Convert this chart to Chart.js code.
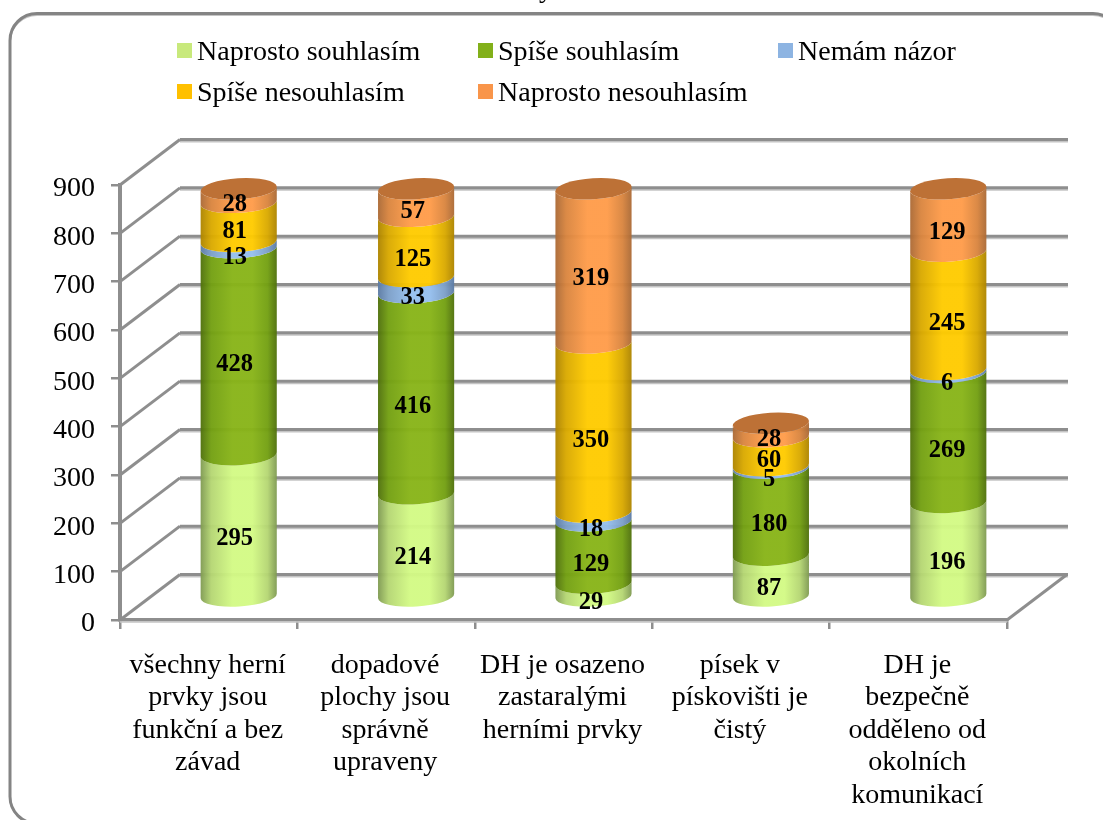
<!DOCTYPE html>
<html>
<head>
<meta charset="utf-8">
<script src="https://cdn.jsdelivr.net/npm/chart.js@4"></script>
<style>
  html, body { margin: 0; background: #fff; }
  canvas { display: block; }
</style>
</head>
<body>
<canvas id="myChart" width="1103" height="820"></canvas>
<script>
const categories = [
  ['všechny herní', 'prvky jsou', 'funkční a bez', 'závad'],
  ['dopadové', 'plochy jsou', 'správně', 'upraveny'],
  ['DH je osazeno', 'zastaralými', 'herními prvky'],
  ['písek v', 'pískovišti je', 'čistý'],
  ['DH je', 'bezpečně', 'odděleno od', 'okolních', 'komunikací']
]
const seriesNames = ['Naprosto souhlasím', 'Spíše souhlasím', 'Nemám názor', 'Spíše nesouhlasím', 'Naprosto nesouhlasím']
const naprostoSouhlasim = [295, 214, 29, 87, 196]
const spiseSouhlasim = [428, 416, 129, 180, 269]
const nemamNazor = [13, 33, 18, 5, 6]
const spiseNesouhlasim = [81, 125, 350, 60, 245]
const naprostoNesouhlasim = [28, 57, 319, 28, 129]
const seriesValues = [naprostoSouhlasim, spiseSouhlasim, nemamNazor, spiseNesouhlasim, naprostoNesouhlasim]

const legendColors = ['#c8e97c', '#82b01a', '#8db4e2', '#ffc000', '#f9954a']
const brightColors = ['#d3fa85', '#88b418', '#95bfee', '#ffcb00', '#ff9c4a']
const midColors = ['#b5d673', '#73a012', '#7c9fc8', '#d9a900', '#d9853f']
const darkColors = ['#7f9a52', '#4f700c', '#5b7aa3', '#ad8400', '#ab6a36']
const capColor = '#bd7136'

const lineColor = '#8e8e8e'
const lineShadow = '#c4c4c4'
const font = 'Liberation Serif'

// depth of the fake 3d floor
const depthX = 60
const depthY = 45.5
const tilt = -3.5 * Math.PI / 180
const capRy = 10.5

function line (ctx, x1, y1, x2, y2, color, w) {
  ctx.strokeStyle = color
  ctx.lineWidth = w
  ctx.beginPath()
  ctx.moveTo(x1, y1)
  ctx.lineTo(x2, y2)
  ctx.stroke()
}

const frame = {
  id: 'frame',
  beforeDraw (chart) {
    const ctx = chart.ctx
    ctx.save()
    ctx.strokeStyle = lineShadow
    ctx.lineWidth = 2
    ctx.beginPath()
    ctx.roundRect(10, 15, 1110, 809, 27)
    ctx.stroke()
    ctx.strokeStyle = '#848484'
    ctx.lineWidth = 3
    ctx.beginPath()
    ctx.roundRect(10, 13.5, 1110, 810, 27)
    ctx.stroke()
    // tail of the heading above the crop
    ctx.fillStyle = '#000'
    ctx.font = '28px "' + font + '"'
    ctx.textAlign = 'center'
    ctx.textBaseline = 'alphabetic'
    ctx.fillText('y', 546, -3)
    ctx.restore()
  }
}

const walls = {
  id: 'walls',
  beforeDatasetsDraw (chart) {
    const ctx = chart.ctx
    const y = chart.scales.y
    const x = chart.scales.x
    const left = x.left
    const right = x.right
    ctx.save()
    y.ticks.forEach(t => {
      const py = y.getPixelForValue(t.value)
      line(ctx, left + depthX, py - depthY + 2, right + depthX + 1, py - depthY + 2, lineShadow, 2)
      line(ctx, left + depthX, py - depthY, right + depthX + 1, py - depthY, lineColor, 3)
      line(ctx, left, py, left + depthX, py - depthY, lineColor, 3)
    })
    const base = y.getPixelForValue(0)
    line(ctx, right, base, right + depthX, base - depthY, lineColor, 3)
    line(ctx, left, base + 2, right, base + 2, lineShadow, 1.5)
    ctx.restore()
  }
}

const cylinders = {
  id: 'cylinders',
  beforeDatasetsDraw (chart) {
    const ctx = chart.ctx
    ctx.save()
    categories.forEach((c, j) => {
      let top = null
      seriesValues.forEach((s, i) => {
        const bar = chart.getDatasetMeta(i).data[j]
        const cx = bar.x + depthX / 2
        const rx = bar.width / 2
        const yb = bar.base - depthY / 2
        const yt = bar.y - depthY / 2
        const g = ctx.createLinearGradient(cx - rx, 0, cx + rx, 0)
        g.addColorStop(0, darkColors[i])
        g.addColorStop(0.14, midColors[i])
        g.addColorStop(0.42, brightColors[i])
        g.addColorStop(0.68, brightColors[i])
        g.addColorStop(0.88, midColors[i])
        g.addColorStop(1, darkColors[i])
        ctx.fillStyle = g
        ctx.globalAlpha = 0.96
        ctx.beginPath()
        ctx.ellipse(cx, yb, rx, capRy, tilt, 0, Math.PI, false)
        ctx.ellipse(cx, yt, rx, capRy, tilt, Math.PI, 0, true)
        ctx.closePath()
        ctx.fill()
        top = { cx, yt, rx }
      })
      ctx.globalAlpha = 1
      ctx.fillStyle = capColor
      ctx.beginPath()
      ctx.ellipse(top.cx, top.yt, top.rx, capRy, tilt, 0, Math.PI * 2)
      ctx.fill()
    })
    // value labels go on top of all segments
    ctx.fillStyle = '#000'
    ctx.font = 'bold 24.5px "' + font + '"'
    ctx.textAlign = 'center'
    ctx.textBaseline = 'middle'
    categories.forEach((c, j) => {
      seriesValues.forEach((s, i) => {
        const bar = chart.getDatasetMeta(i).data[j]
        const mid = (bar.y + bar.base) / 2 - depthY / 2
        // tall slices and the bottom/blue ones sit a bit lower in the original
        const nudge = (i === 0 || i === 2 || s[j] >= 85) ? 3.5 : 0
        ctx.fillText(String(s[j]), bar.x + depthX / 2 - 4 + j * 0.7, mid + 9.5 + nudge)
      })
    })
    ctx.restore()
    return false
  }
}

const legendRows = {
  id: 'legendRows',
  afterDraw (chart) {
    const ctx = chart.ctx
    const spots = [[177, 43], [478, 43], [778, 43], [177, 84], [478, 84]]
    ctx.save()
    ctx.font = '28px "' + font + '"'
    ctx.textAlign = 'left'
    ctx.textBaseline = 'alphabetic'
    seriesNames.forEach((name, i) => {
      const [sx, sy] = spots[i]
      ctx.fillStyle = legendColors[i]
      ctx.fillRect(sx, sy, 15, 15)
      ctx.fillStyle = '#000'
      ctx.fillText(name, sx + 20, sy + 17)
    })
    ctx.restore()
  }
}

new Chart(document.getElementById('myChart').getContext('2d'), {
  type: 'bar',
  data: {
    labels: categories,
    datasets: seriesNames.map((name, i) => ({
      label: name,
      data: seriesValues[i],
      backgroundColor: legendColors[i]
    }))
  },
  plugins: [frame, walls, cylinders, legendRows],
  options: {
    responsive: false,
    animation: false,
    layout: { padding: { left: 20, right: 96, top: 185, bottom: 10 } },
    datasets: { bar: { categoryPercentage: 1, barPercentage: 0.43 } },
    plugins: { legend: { display: false }, tooltip: { enabled: false } },
    scales: {
      x: {
        stacked: true,
        afterFit: s => { s.height = 190 },
        border: { color: lineColor, width: 3.5 },
        grid: { drawOnChartArea: false, color: lineColor, tickLength: 9, lineWidth: 2.5 },
        ticks: {
          autoSkip: false,
          maxRotation: 0,
          padding: 20,
          labelOffset: -1,
          color: '#000',
          font: { family: font, size: 28, lineHeight: 1.16 }
        }
      },
      y: {
        stacked: true,
        min: 0,
        max: 900,
        afterFit: s => { s.width = 100 },
        border: { color: lineColor, width: 4 },
        grid: { drawOnChartArea: false, color: lineColor, tickLength: 9, lineWidth: 2.5 },
        ticks: {
          stepSize: 100,
          padding: 16,
          labelOffset: 4,
          color: '#000',
          font: { family: font, size: 28 }
        }
      }
    }
  }
})
</script>
</body>
</html>
